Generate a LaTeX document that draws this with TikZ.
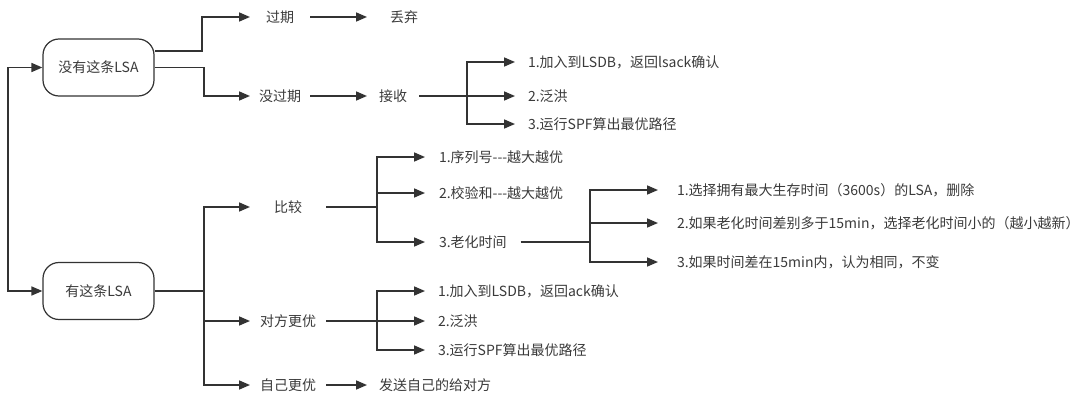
\documentclass[tikz,border=0pt]{standalone}
\usepackage{fontspec}
\setmainfont{Noto Sans CJK SC}
\usetikzlibrary{arrows.meta,calc}
\definecolor{lncol}{HTML}{333333}
\definecolor{txcol}{HTML}{3A3A3A}
\begin{document}
\begin{tikzpicture}[x=1pt,y=-1pt,
  box/.style={draw=lncol,line width=1.2pt,rounded corners=16pt,minimum width=111pt,minimum height=57pt,fill=white,text=txcol,font=\fontsize{14}{16}\selectfont},
  lbl/.style={anchor=west,inner ysep=0pt,outer sep=0pt,text=txcol,font=\fontsize{14}{16}\selectfont},
  arr/.style={draw=lncol,line width=1.6pt,-{Triangle[length=11pt,width=9pt]}},
  plain/.style={draw=lncol,line width=1.6pt},
  dbl/.style={draw=lncol,line width=1.6pt,{Triangle[length=11pt,width=9pt]}-{Triangle[length=11pt,width=9pt]}}
]
\useasboundingbox (0,0) rectangle (1090,404);
% main boxes
\node[box] (b1) at (98.5,67.5) {没有这条LSA};
\node[box] (b2) at (98.5,291) {有这条LSA};
\coordinate (L) at (8,180);
\draw[dbl] (b1.west) -| (L) |- (b2.west);

% upper branch
\node[lbl,inner xsep=16pt] (guoqi) at (250,17) {过期};
\node[lbl,inner xsep=9pt] (meiguoqi) at (250,96) {没过期};
\node[lbl,inner xsep=23pt] (diuqi) at (367,17) {丢弃};
\node[lbl,inner xsep=12pt] (jieshou) at (367,96) {接收};
\node[lbl,inner xsep=13pt] (r1) at (515,62) {1.加入到LSDB，返回lsack确认};
\node[lbl,inner xsep=13pt] (r2) at (515,96) {2.泛洪};
\node[lbl,inner xsep=13pt] (r3) at (515,124) {3.运行SPF算出最优路径};
\coordinate (j1) at (202,34);
\coordinate (j2) at (204,80);
\coordinate (j3) at (467,96);
\draw[arr] ([yshift=16.5pt]b1.east) -| (j1) |- (guoqi.west);
\draw[arr] (b1.east) -| (j2) |- (meiguoqi.west);
\draw[arr] (guoqi) -- (diuqi);
\draw[arr] (meiguoqi) -- (jieshou);
\draw[plain] (jieshou.east) -- (j3);
\draw[arr] (j3) |- (r1.west);
\draw[arr] (j3) -- (r2.west);
\draw[arr] (j3) |- (r3.west);

% lower branch
\node[lbl,inner xsep=24pt] (bijiao) at (250,207) {比较};
\node[lbl,inner xsep=10pt] (duifang) at (250,321) {对方更优};
\node[lbl,inner xsep=10pt] (ziji) at (250,385) {自己更优};
\node[lbl,inner xsep=12pt] (send) at (367,385) {发送自己的给对方};
\coordinate (j4) at (204,291);
\draw[plain] (b2.east) -- (j4);
\draw[arr] (j4) |- (bijiao.west);
\draw[arr] (j4) |- (duifang.west);
\draw[arr] (j4) |- (ziji.west);
\draw[arr] (ziji) -- (send);

% compare
\node[lbl,inner xsep=14pt] (c1) at (425,157) {1.序列号-{}-{}-越大越优};
\node[lbl,inner xsep=14pt] (c2) at (425,193) {2.校验和-{}-{}-越大越优};
\node[lbl,inner xsep=14pt] (c3) at (425,242) {3.老化时间};
\coordinate (j5) at (377,207);
\draw[plain] (bijiao.east) -- (j5);
\draw[arr] (j5) |- (c1.west);
\draw[arr] (j5) |- (c2.west);
\draw[arr] (j5) |- (c3.west);

% aging
\node[lbl,inner xsep=19pt] (a1) at (658,190) {1.选择拥有最大生存时间（3600s）的LSA，删除};
\node[lbl,inner xsep=19pt] (a2) at (658,223) {2.如果老化时间差别多于15min，选择老化时间小的（越小越新）};
\node[lbl,inner xsep=19pt] (a3) at (658,262) {3.如果时间差在15min内，认为相同，不变};
\coordinate (j6) at (590,242);
\draw[plain] (c3.east) -- (j6);
\draw[arr] (j6) |- (a1.west);
\draw[arr] (j6) |- (a2.west);
\draw[arr] (j6) |- (a3.west);

% other better
\node[lbl,inner xsep=13pt] (d1) at (425,291) {1.加入到LSDB，返回ack确认};
\node[lbl,inner xsep=13pt] (d2) at (425,321) {2.泛洪};
\node[lbl,inner xsep=13pt] (d3) at (425,350) {3.运行SPF算出最优路径};
\coordinate (j7) at (377,321);
\draw[plain] (duifang.east) -- (j7);
\draw[arr] (j7) |- (d1.west);
\draw[arr] (j7) -- (d2.west);
\draw[arr] (j7) |- (d3.west);
\end{tikzpicture}
\end{document}
